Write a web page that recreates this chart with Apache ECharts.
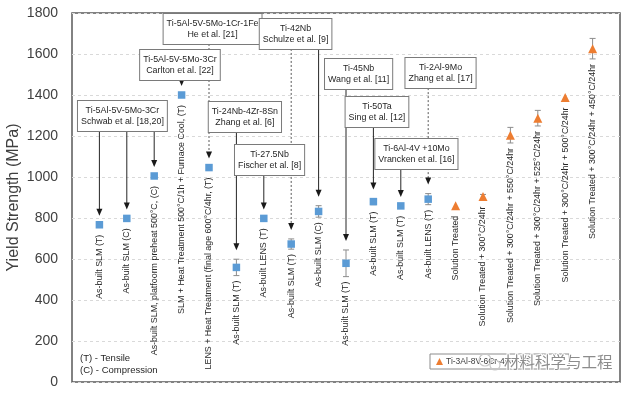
<!DOCTYPE html>
<html><head><meta charset="utf-8">
<script src="https://cdn.jsdelivr.net/npm/echarts@6/dist/echarts.min.js"></script>
<style>html,body{margin:0;padding:0;background:#fff}#c{width:629px;height:393px}</style>
</head><body><div id="c"></div>
<script>
// ---------------- data ----------------
const yTicks = [0, 200, 400, 600, 800, 1000, 1200, 1400, 1600, 1800];
const categories = [
  'As-built SLM (T)',
  'As-built SLM (C)',
  'As-built SLM, platfoorm preheat 500°C, (C)',
  'SLM + Heat Treatment 500°C/1h + Furnace Cool, (T)',
  'LENS + Heat Treatment (final age 600°C/4hr, (T)',
  'As-built SLM (T)',
  'As-built LENS (T)',
  'As-built SLM (T)',
  'As-built SLM (C)',
  'As-built SLM (T)',
  'As-built SLM (T)',
  'As-built SLM (T)',
  'As-built LENS (T)',
  'Solution Treated',
  'Solution Treated + 300°C/24hr',
  'Solution Treated + 300°C/24hr + 550°C/24hr',
  'Solution Treated + 300°C/24hr + 525°C/24hr',
  'Solution Treated + 300°C/24hr + 500°C/24hr',
  'Solution Treated + 300°C/24hr + 450°C/24hr'
];
const literatureStrength = [767, 798, 1005, 1400, 1046, 559, 798, 673, 832, 579, 880, 859, 892];
const literatureError    = [0, 0, 0, 0, 0, 40, 0, 25, 28, 65, 15, 0, 27];
const ti3Al8VStrength = [860, 905, 1204, 1287, 1388, 1626];
const ti3Al8VError    = [0, 10, 38, 38, 0, 50];
const ti3Al8VName = 'Ti-3Al-8V-6Cr-4Mo-4Zr';

const boxTexts = [
  ['Ti-5Al-5V-5Mo-3Cr', 'Schwab et al. [18,20]'],
  ['Ti-5Al-5V-5Mo-3Cr', 'Carlton et al. [22]'],
  ['Ti-5Al-5V-5Mo-1Cr-1Fe', 'He et al. [21]'],
  ['Ti-24Nb-4Zr-8Sn', 'Zhang et al. [6]'],
  ['Ti-27.5Nb', 'Fischer et al. [8]'],
  ['Ti-42Nb', 'Schulze et al. [9]'],
  ['Ti-45Nb', 'Wang et al. [11]'],
  ['Ti-50Ta', 'Sing et al. [12]'],
  ['Ti-2Al-9Mo', 'Zhang et al. [17]'],
  ['Ti-6Al-4V +10Mo', 'Vrancken et al. [16]']
];
const boxTargets = [[0, 1, 2], [3], [4], [5], [6], [7, 8], [9], [10], [12], [11]];
const dottedTargets = [4, 7, 12];
const noteLines = ['(T) - Tensile', '(C) - Compression'];
const watermarkText = '材料科学与工程';

// ---------------- layout (box anchor: [x position, top in MPa]) ----------------
const boxAnchor = [[1.84, 1371], [3.94, 1620], [5.13, 1795], [6.31, 1366], [7.21, 1156],
                   [8.16, 1771], [10.46, 1576], [11.13, 1390], [13.45, 1580], [12.57, 1185]];

const FONT = "'Liberation Sans', Arial, sans-serif";
const BLUE = '#5B9BD5', ORANGE = '#ED7D31';

const litPts = literatureStrength.map((v, i) => [i + 1, v, literatureError[i], i]);
const tiPts = ti3Al8VStrength.map((v, i) => [literatureStrength.length + i + 1, v, ti3Al8VError[i], literatureStrength.length + i]);
const allPts = litPts.concat(tiPts);

const chart = echarts.init(document.getElementById('c'), null, {renderer: 'canvas'});

function errItem(params, api) {
  const x = api.value(0), v = api.value(1), e = api.value(2);
  if (!e) return null;
  const t = api.coord([x, v + e]), b = api.coord([x, v - e]);
  const st = {stroke: '#8c8c8c', lineWidth: 1};
  return {type: 'group', children: [
    {type: 'line', shape: {x1: t[0], y1: t[1], x2: b[0], y2: b[1]}, style: st},
    {type: 'line', shape: {x1: t[0] - 3, y1: t[1], x2: t[0] + 3, y2: t[1]}, style: st},
    {type: 'line', shape: {x1: b[0] - 3, y1: b[1], x2: b[0] + 3, y2: b[1]}, style: st}
  ]};
}
function labelItem(params, api) {
  const x = api.value(0), v = api.value(1), e = api.value(2);
  const p = api.coord([x, v]), pb = api.coord([x, v - e]);
  const top = Math.max(p[1] + 10, pb[1] + 5);
  return {type: 'text', x: p[0], y: top, rotation: Math.PI / 2,
    style: {text: categories[api.value(3)], align: 'right', verticalAlign: 'middle',
      fontSize: 8.9, fontFamily: FONT, fill: '#262626'}};
}

chart.setOption({
  animation: false,
  grid: {left: 72, top: 13, width: 548, height: 369, show: true, outerBoundsMode: 'none', containLabel: false,
    borderColor: '#595959', borderWidth: 1.5, backgroundColor: 'transparent'},
  xAxis: {type: 'value', min: 0, max: 20, show: false},
  yAxis: {type: 'value', min: 0, max: 1800, interval: 200,
    name: 'Yield Strength (MPa)', nameLocation: 'middle', nameGap: 50, nameMoveOverlap: false,
    nameTextStyle: {fontSize: 16, fontFamily: FONT, color: '#404040'},
    axisLine: {show: false}, axisTick: {show: false},
    axisLabel: {fontSize: 14, fontFamily: FONT, color: '#404040', margin: 14,
      formatter: v => yTicks.includes(v) ? String(v) : ''},
    splitLine: {lineStyle: {color: '#d9d9d9', type: [3, 3], width: 1}}},
  legend: {data: [ti3Al8VName], left: 430, top: 354, orient: 'horizontal',
    padding: [3, 37, 3, 6], itemWidth: 7, itemHeight: 7, itemGap: 4,
    borderColor: '#8c8c8c', borderWidth: 1, backgroundColor: '#fff',
    textStyle: {fontSize: 8.5, fontFamily: FONT, color: '#404040', padding: [0, 0, 0, -2]}},
  series: [
    {type: 'custom', name: 'err', renderItem: errItem, data: allPts, z: 2, silent: true},
    {type: 'custom', name: 'labels', renderItem: labelItem, data: allPts, z: 3, silent: true},
    {type: 'scatter', name: 'lit', data: litPts.map(p => [p[0], p[1]]), symbol: 'rect', symbolSize: 7.5,
      itemStyle: {color: BLUE, opacity: 1}, z: 4},
    {type: 'scatter', name: ti3Al8VName, data: tiPts.map(p => [p[0], p[1]]), symbol: 'triangle', symbolSize: 9,
      itemStyle: {color: ORANGE, opacity: 1}, z: 4}
  ]
});

// annotations
const px = (x, y) => chart.convertToPixel({gridIndex: 0}, [x, y]);
const LH = 11.5, PADV = 3.5, PADH = 3;
const lines = [], boxes = [];
boxTexts.forEach((txt, bi) => {
  const a = px(boxAnchor[bi][0], boxAnchor[bi][1]);
  const bottom = a[1] + txt.length * LH + PADV * 2;
  boxes.push({type: 'text', x: a[0], y: a[1], z: 20,
    style: {text: txt.join('\n'), align: 'center', verticalAlign: 'top', lineHeight: LH,
      fontSize: 8.9, fontFamily: FONT, fill: '#262626',
      backgroundColor: '#fff', borderColor: '#7a7a7a', borderWidth: 1, padding: [PADV, PADH]}});
  boxTargets[bi].forEach(ti => {
    const pt = allPts[ti];
    const p = px(pt[0], pt[1] + pt[2]);
    const endY = p[1] - 9;
    const dotted = dottedTargets.includes(ti);
    lines.push({type: 'line', z: 15, shape: {x1: p[0], y1: bottom, x2: p[0], y2: endY - 6},
      style: {stroke: dotted ? '#595959' : '#262626', lineWidth: 1, lineDash: dotted ? [2, 2] : null}});
    lines.push({type: 'polygon', z: 15, shape: {points: [[p[0] - 3, endY - 7], [p[0] + 3, endY - 7], [p[0], endY]]},
      style: {fill: '#1a1a1a'}});
  });
});
const notes = noteLines.map((t, i) => ({type: 'text', left: 80, top: 353 + i * 12, z: 20,
  style: {text: t, fontSize: 9.5, fontFamily: FONT, fill: '#262626'}}));
const wm = [
  {type: 'circle', z: 30, shape: {cx: 485, cy: 360, r: 6}, style: {fill: 'none', stroke: '#c8c8c8', lineWidth: 1.2}},
  {type: 'circle', z: 30, shape: {cx: 495, cy: 365, r: 5}, style: {fill: 'none', stroke: '#c8c8c8', lineWidth: 1.2}},
  {type: 'text', z: 30, left: 503, top: 353,
    style: {text: watermarkText, fontSize: 15.5, fontFamily: "'Noto Sans CJK SC'", fill: 'rgba(120,120,120,0.85)', stroke: '#fff', lineWidth: 2}}
];
chart.setOption({graphic: {elements: lines.concat(boxes, notes, wm)}});
</script></body></html>
